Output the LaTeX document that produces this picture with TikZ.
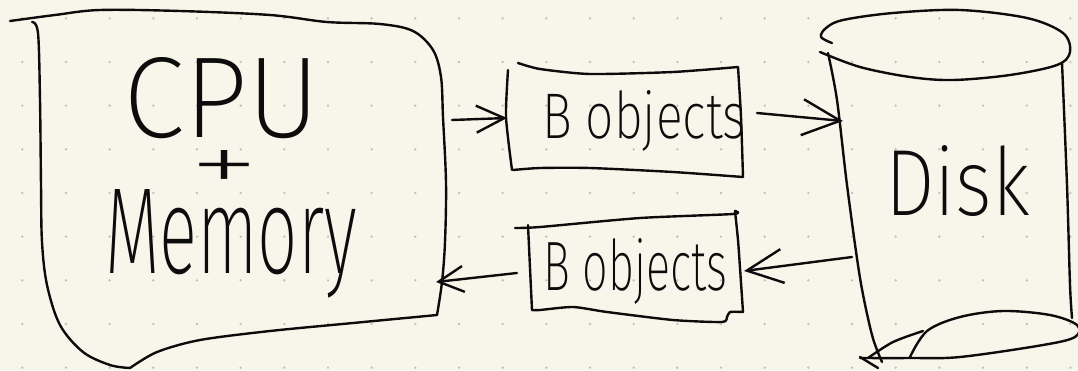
\documentclass[tikz,border=0pt]{standalone}
\usepackage{fontspec}
\usepackage{graphicx}
\usetikzlibrary{arrows.meta}
\IfFontExistsTF{Fira Sans ExtraLight}{\newfontfamily\hand{Fira Sans ExtraLight}}{%
  \IfFontExistsTF{Fira Sans Light}{\newfontfamily\hand{Fira Sans Light}}{\newfontfamily\hand{Fira Sans}}}
\definecolor{paper}{RGB}{248,246,235}
\definecolor{dotc}{RGB}{192,192,184}
\definecolor{ink}{RGB}{12,12,12}
\tikzset{
  pen/.style={draw=ink, line width=2.4pt, line cap=round, line join=round},
  pentext/.style={inner sep=0pt, outer sep=0pt, anchor=base west, text=ink, font=\hand\fontsize{60}{60}\selectfont},
}
\begin{document}
\begin{tikzpicture}[x=1pt,y=-1pt]
\useasboundingbox (0,0) rectangle (1078,370);
\fill[paper] (0,0) rectangle (1078,370);
% dot grid
\foreach \i in {0,...,24}{
  \foreach \j in {0,...,8}{
    \fill[dotc] ({22.3+\i*43.67},{18.3+\j*43.67}) circle (1.3pt);
  }
}
% ---------- CPU + Memory box ----------
\draw[pen] plot[smooth,tension=0.55] coordinates {(10,21) (55,15) (100,10) (180,11) (270,15) (327,22) (380,24) (413,31) (433,50) (441,77) (443,117) (446,183) (445,242) (442,282) (437,315)};
\draw[pen] plot[smooth,tension=0.5] coordinates {(437,315) (353,323) (270,331) (200,340) (157,352) (130,368)};
\draw[pen] plot[smooth,tension=0.55] coordinates {(130,368) (110,365) (83,352) (60,325) (47,285) (42,242) (41,185) (40,100) (38,33) (32,22)};
\node[pentext] (cpu) at (123,137) {\resizebox{197pt}{80pt}{CPU}};
\node[pentext, anchor=base] (plus) at (225,192) {\resizebox{70pt}{42pt}{+}};
\node[pentext] (mem) at (105,273) {\resizebox{252pt}{84pt}{Memory}};
% ---------- upper B objects box ----------
\draw[pen] plot[smooth,tension=0.4] coordinates {(518,63) (540,69) (590,74) (673,72) (738,67)};
\draw[pen] plot[smooth,tension=0.4] coordinates {(738,67) (741,117) (743,177)};
\draw[pen] plot[smooth,tension=0.4] coordinates {(743,177) (673,172) (590,168) (540,168) (513,170)};
\draw[pen] plot[smooth,tension=0.4] coordinates {(508,70) (506,117) (512,170)};
\node[pentext] (bo1) at (542,138) {\resizebox{204pt}{48pt}{B objects}};
% ---------- lower B objects box ----------
\draw[pen] plot[smooth,tension=0.4] coordinates {(515,228) (540,227) (640,218) (733,214) (735,211)};
\draw[pen] plot[smooth,tension=0.4] coordinates {(735,211) (738,240) (740,268) (743,312)};
\draw[pen] plot[smooth,tension=0.4] coordinates {(743,312) (730,312) (727,317) (722,322) (673,320) (607,312) (573,307) (540,310) (532,310)};
\draw[pen] plot[smooth,tension=0.4] coordinates {(528,225) (530,268) (532,310)};
\node[pentext] (bo2) at (543,290) {\resizebox{184pt}{52pt}{B objects}};
% ---------- Disk cylinder ----------
\draw[pen] plot[smooth,tension=0.55] coordinates {(832,43) (821,37) (826,28) (843,20) (893,13) (960,10) (1027,18) (1063,33) (1070,52) (1057,65) (1010,75) (953,80) (910,77) (860,67) (820,52)};
\draw[pen] plot[smooth,tension=0.5] coordinates {(828,53) (837,100) (847,185) (860,278) (872,335) (882,362)};
\draw[pen] plot[smooth,tension=0.5] coordinates {(1062,63) (1067,185) (1070,285) (1072,318)};
\draw[pen] plot[smooth,tension=0.55] coordinates {(860,358) (910,358) (960,357) (1043,345) (1075,337) (1077,325) (1050,315) (1003,311) (960,317) (927,331) (910,357)};
\draw[pen] plot[smooth,tension=0.5] coordinates {(868,358) (893,342) (923,331)};
\draw[pen] (860,357) -- (878,368);
\node[pentext] (disk) at (885,215) {\resizebox{145pt}{70pt}{Disk}};
% ---------- arrows ----------
\coordinate (a1s) at (452,120); \coordinate (a1e) at (507,118);
\coordinate (a2s) at (757,113); \coordinate (a2e) at (843,121);
\coordinate (a3s) at (852,257); \coordinate (a3e) at (744,271);
\coordinate (a4s) at (517,273); \coordinate (a4e) at (436,282);
\draw[pen, -{Straight Barb[length=28pt,width=27pt]}] (a1s) -- (a1e);
\draw[pen, -{Straight Barb[length=38pt,width=36pt]}] (a2s) -- (a2e);
\draw[pen, -{Straight Barb[length=36pt,width=34pt]}] (a3s) -- (a3e);
\draw[pen, -{Straight Barb[length=25pt,width=26pt]}] (a4s) -- (a4e);
\end{tikzpicture}
\end{document}
